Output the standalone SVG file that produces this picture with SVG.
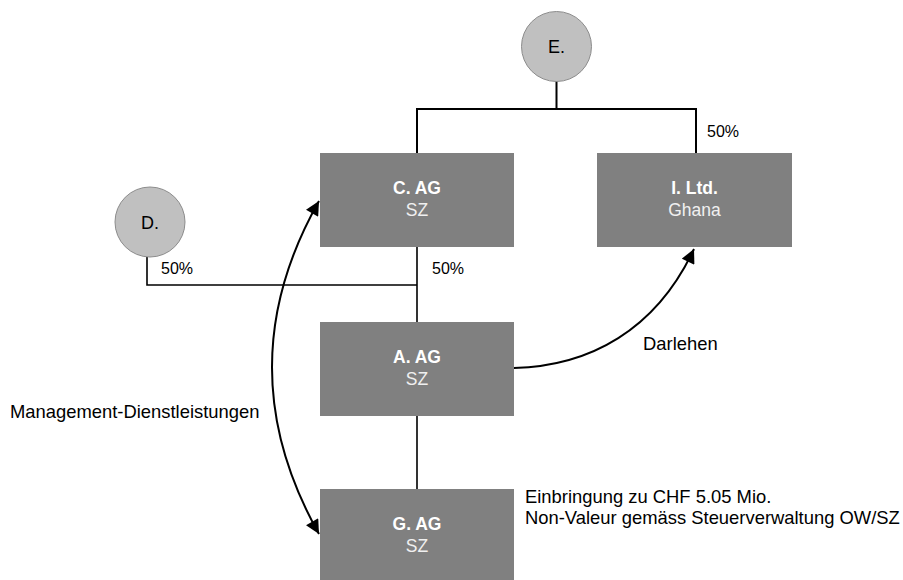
<svg xmlns="http://www.w3.org/2000/svg" width="903" height="580" viewBox="0 0 903 580">
<style>
.box{fill:#808080}
.circ{fill:#c0c0c0;stroke:#8c8c8c;stroke-width:1}
.ttl{font-family:"Liberation Sans",Arial,sans-serif;font-size:17.5px;font-weight:bold;fill:#ffffff;text-anchor:middle}
.sub{font-family:"Liberation Sans",Arial,sans-serif;font-size:17.5px;fill:#f0f0f0;text-anchor:middle}
.ctxt{font-family:"Liberation Sans",Arial,sans-serif;font-size:18px;fill:#000;text-anchor:middle}
.lbl{font-family:"Liberation Sans",Arial,sans-serif;font-size:18.4px;fill:#000}
.pct{font-family:"Liberation Sans",Arial,sans-serif;font-size:16px;fill:#000}
.ln{fill:none;stroke:#000;stroke-width:1.6}
.lnb{fill:none;stroke:#000;stroke-width:2}
.arr{fill:none;stroke:#000;stroke-width:2}
</style>
<defs>
<marker id="ah" viewBox="0 0 10 10" refX="10" refY="5" markerWidth="7.5" markerHeight="7" orient="auto-start-reverse" markerUnits="strokeWidth">
<path d="M0,0 L10,5 L0,10 z" fill="#000"/>
</marker>
</defs>
<g id="connectors">
<path class="lnb" d="M556.5,81 V109 M417,109 H696 M417,108 V153 M696,108 V153"/>
<path class="ln" d="M147,257 V285 H417 M417,247 V322 M417,416 V489"/>
<path class="arr" d="M514,368 C590,366 656,330 694,249" marker-end="url(#ah)"/>
<path class="arr" d="M319,201 Q225,367 319,534" marker-start="url(#ah)" marker-end="url(#ah)"/>
</g>
<g id="E"><circle class="circ" cx="556.5" cy="46.5" r="35"/><text class="ctxt" x="556.5" y="53">E.</text></g>
<g id="D"><circle class="circ" cx="150" cy="222" r="35"/><text class="ctxt" x="150" y="228.5">D.</text></g>
<g id="C"><rect class="box" x="320" y="153" width="194" height="94"/><text class="ttl" x="417" y="194">C. AG</text><text class="sub" x="417" y="216">SZ</text></g>
<g id="I"><rect class="box" x="597" y="153" width="195" height="94"/><text class="ttl" x="694.5" y="194">I. Ltd.</text><text class="sub" x="694.5" y="216">Ghana</text></g>
<g id="A"><rect class="box" x="320" y="322" width="194" height="94"/><text class="ttl" x="417" y="363">A. AG</text><text class="sub" x="417" y="385">SZ</text></g>
<g id="G"><rect class="box" x="320" y="489" width="194" height="94"/><text class="ttl" x="417" y="530">G. AG</text><text class="sub" x="417" y="552">SZ</text></g>
<g id="labels">
<text class="pct" x="707" y="137">50%</text>
<text class="pct" x="161" y="274">50%</text>
<text class="pct" x="432" y="274">50%</text>
<text class="lbl" x="643" y="350">Darlehen</text>
<text class="lbl" x="10" y="418">Management-Dienstleistungen</text>
<text class="lbl" x="525" y="503">Einbringung zu CHF 5.05 Mio.</text>
<text class="lbl" x="525" y="524">Non-Valeur gemäss Steuerverwaltung OW/SZ</text>
</g>
</svg>
